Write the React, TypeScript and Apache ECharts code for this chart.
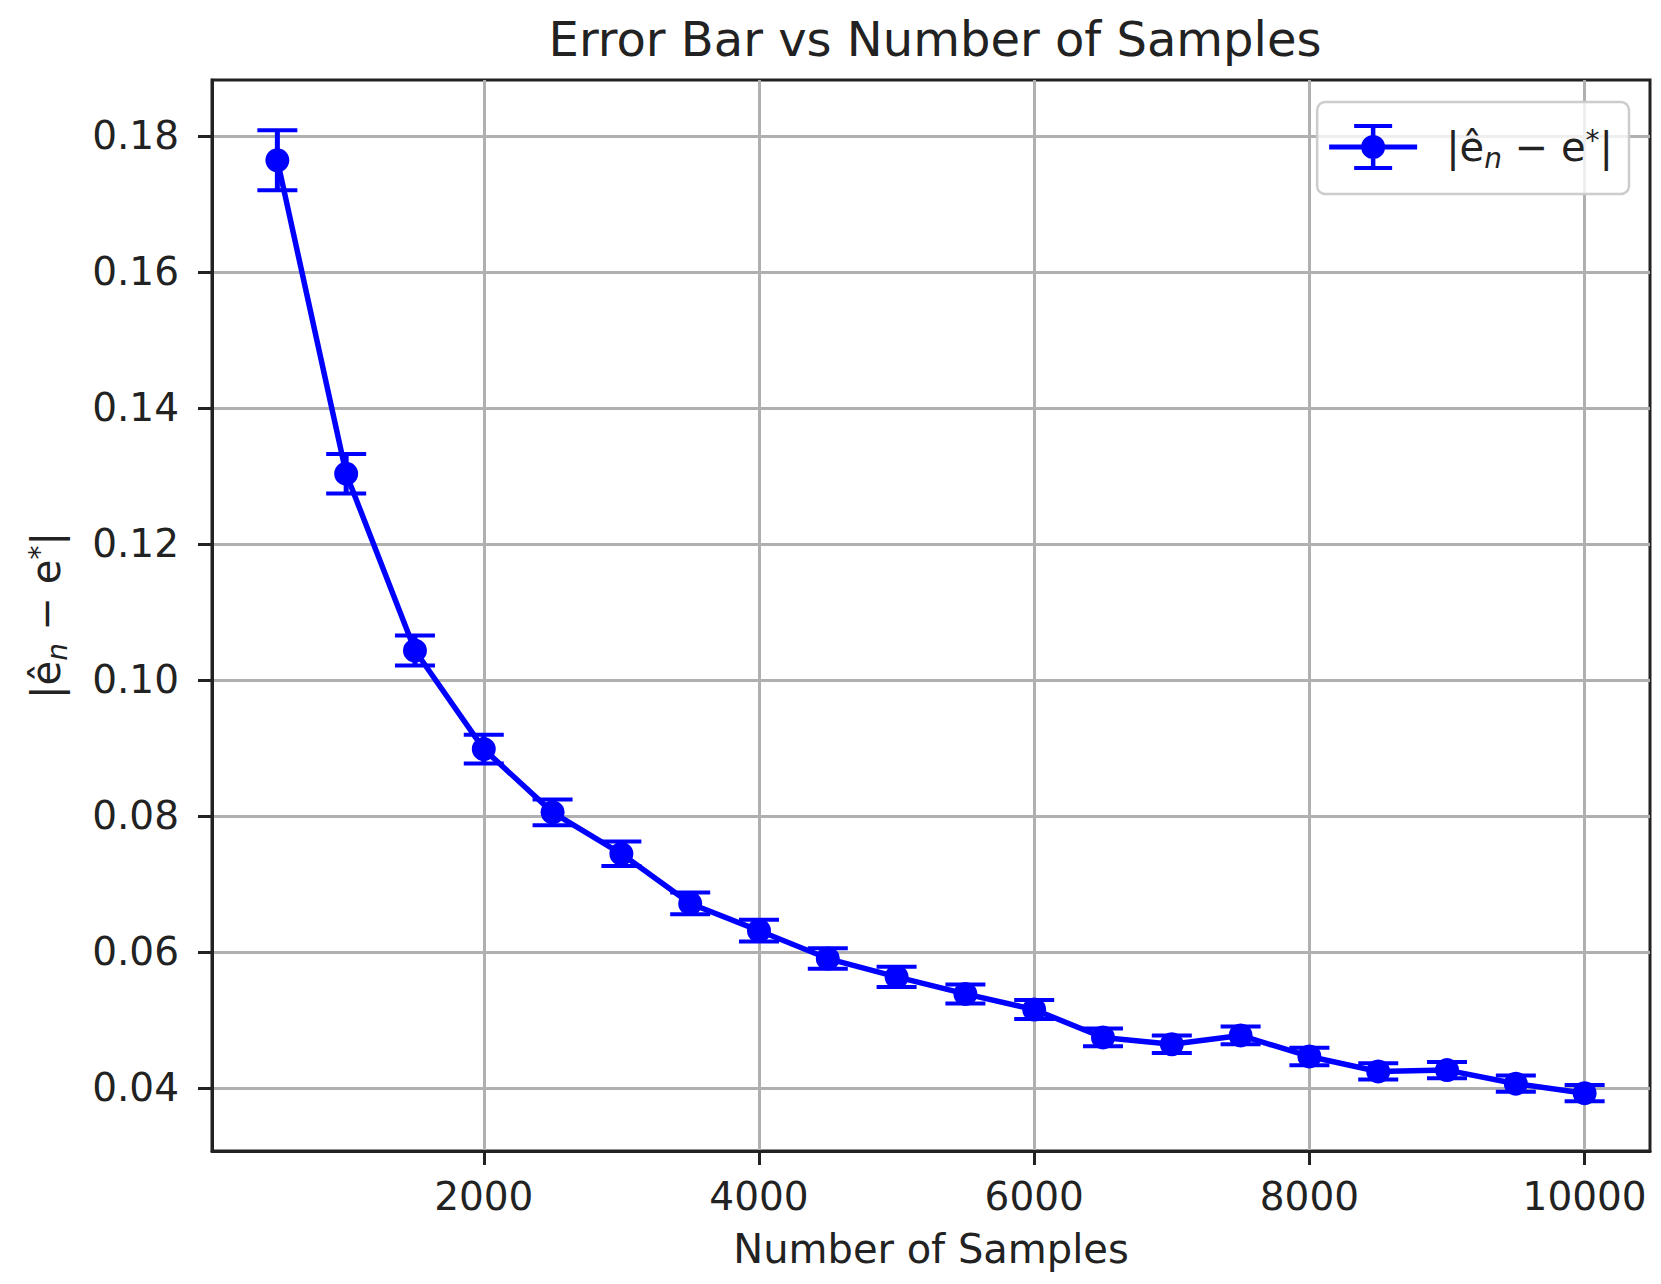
import React, { useEffect, useRef } from "react";
import * as echarts from "echarts";

const samples = [500, 1000, 1500, 2000, 2500, 3000, 3500, 4000, 4500, 5000, 5500, 6000, 6500, 7000, 7500, 8000, 8500, 9000, 9500, 10000];
const errorMean = [0.1764, 0.1303, 0.1043, 0.0898, 0.0805, 0.0744, 0.0671, 0.0631, 0.0590, 0.0563, 0.0538, 0.0515, 0.0474, 0.0464, 0.0477, 0.0446, 0.0424, 0.0426, 0.0406, 0.0392];
const errorBar = [0.0044, 0.0029, 0.0022, 0.0021, 0.0019, 0.0018, 0.0016, 0.0016, 0.0015, 0.0015, 0.0014, 0.0014, 0.0013, 0.0013, 0.0013, 0.0013, 0.0012, 0.0012, 0.0012, 0.0012];
const xTicks = [2000, 4000, 6000, 8000, 10000];
const yTicks = [0.04, 0.06, 0.08, 0.10, 0.12, 0.14, 0.16, 0.18];

const FONT = "DejaVu Sans";
const BLUE = "#0000ff";
const SERIES_NAME = "|ê_n − e*|";

const mathRich = {
  m: { fontSize: 40, fontFamily: FONT, color: "#222" },
  sub: { fontSize: 28, fontFamily: FONT, fontStyle: "italic", color: "#222", padding: [22, 0, 0, 0] },
  sup: { fontSize: 28, fontFamily: FONT, color: "#222", padding: [0, 0, 14, 0] },
};
const mathLabel = "{m||ê}{sub|n}{m| − e}{sup|*}{m||}";

const ICON =
  "path://M0 20.5H88V25.5H0Z M41.75 0H46.25V46H41.75Z M25 0H63V4H25Z M25 42H63V46H25Z M32 23A12 12 0 1 1 56 23A12 12 0 1 1 32 23Z";

export default function App() {
  const ref = useRef<HTMLDivElement>(null);

  useEffect(() => {
    if (!ref.current) return;
    const chart = echarts.init(ref.current, null, { renderer: "svg" });
    const points = samples.map((x, i) => [x, errorMean[i]]);
    const bars = samples.map((x, i) => [x, errorMean[i] - errorBar[i], errorMean[i] + errorBar[i]]);

    chart.setOption({
      animation: false,
      backgroundColor: "#ffffff",
      title: {
        text: "Error Bar vs Number of Samples",
        left: 930,
        textAlign: "center",
        top: 10,
        textStyle: { fontFamily: FONT, fontSize: 48, fontWeight: "normal", color: "#222" },
      },
      legend: {
        right: 32,
        top: 102,
        data: [{ name: SERIES_NAME, icon: ICON }],
        itemWidth: 88,
        itemHeight: 46,
        padding: [22, 16, 22, 12],
        borderColor: "#cccccc",
        borderWidth: 2.5,
        borderRadius: 8,
        backgroundColor: "rgba(255,255,255,0.8)",
        itemStyle: { color: BLUE, borderWidth: 0 },
        formatter: () => mathLabel,
        textStyle: { fontFamily: FONT, fontSize: 40, color: "#222", padding: [0, 0, 0, 24], rich: mathRich },
      },
      grid: {
        left: 212,
        right: 11,
        top: 80,
        bottom: 133,
        show: true,
        borderColor: "#222",
        borderWidth: 3,
        backgroundColor: "transparent",
      },
      xAxis: {
        type: "value",
        min: 25,
        max: 10475,
        name: "Number of Samples",
        nameLocation: "middle",
        nameGap: 78,
        nameTextStyle: { fontFamily: FONT, fontSize: 40, color: "#222" },
        axisLine: { show: true, lineStyle: { color: "#222", width: 3 } },
        axisTick: { show: true, length: 14, lineStyle: { color: "#222", width: 3 }, customValues: xTicks },
        axisLabel: {
          fontFamily: FONT,
          fontSize: 39,
          color: "#222",
          margin: 26,
          customValues: xTicks,
          formatter: (v: number) => String(v),
        },
        splitLine: { show: true, lineStyle: { color: "#b0b0b0", width: 3 } },
      },
      yAxis: {
        type: "value",
        min: 0.0307,
        max: 0.1882,
        name: mathLabel,
        nameLocation: "middle",
        nameRotate: 90,
        nameGap: 141,
        nameTextStyle: { fontFamily: FONT, fontSize: 40, color: "#222", rich: mathRich },
        axisLine: { show: true, lineStyle: { color: "#222", width: 3 } },
        axisTick: { show: true, length: 14, lineStyle: { color: "#222", width: 3 }, customValues: yTicks },
        axisLabel: {
          fontFamily: FONT,
          fontSize: 39,
          color: "#222",
          margin: 33,
          customValues: yTicks,
          formatter: (v: number) => v.toFixed(2),
        },
        splitLine: { show: true, lineStyle: { color: "#b0b0b0", width: 3 } },
      },
      series: [
        {
          name: SERIES_NAME,
          type: "custom",
          data: bars,
          encode: { x: 0, y: [1, 2] },
          z: 3,
          renderItem: (params: any, api: any) => {
            const x = api.value(0);
            const lo = api.coord([x, api.value(1)]);
            const hi = api.coord([x, api.value(2)]);
            const half = 20;
            const style = { stroke: BLUE, lineWidth: 4 };
            return {
              type: "group",
              children: [
                { type: "line", shape: { x1: lo[0], y1: lo[1], x2: hi[0], y2: hi[1] }, style: { stroke: BLUE, lineWidth: 5 } },
                { type: "line", shape: { x1: lo[0] - half, y1: lo[1], x2: lo[0] + half, y2: lo[1] }, style },
                { type: "line", shape: { x1: hi[0] - half, y1: hi[1], x2: hi[0] + half, y2: hi[1] }, style },
              ],
            };
          },
        },
        {
          name: SERIES_NAME,
          type: "line",
          data: points,
          symbol: "circle",
          symbolSize: 24,
          z: 4,
          itemStyle: { color: BLUE },
          lineStyle: { color: BLUE, width: 5.5 },
        },
      ],
    });

    return () => chart.dispose();
  }, []);

  return (
    <div
      ref={ref}
      style={{ position: "fixed", left: 0, top: 0, width: 1661, height: 1284, background: "#fff" }}
    />
  );
}
